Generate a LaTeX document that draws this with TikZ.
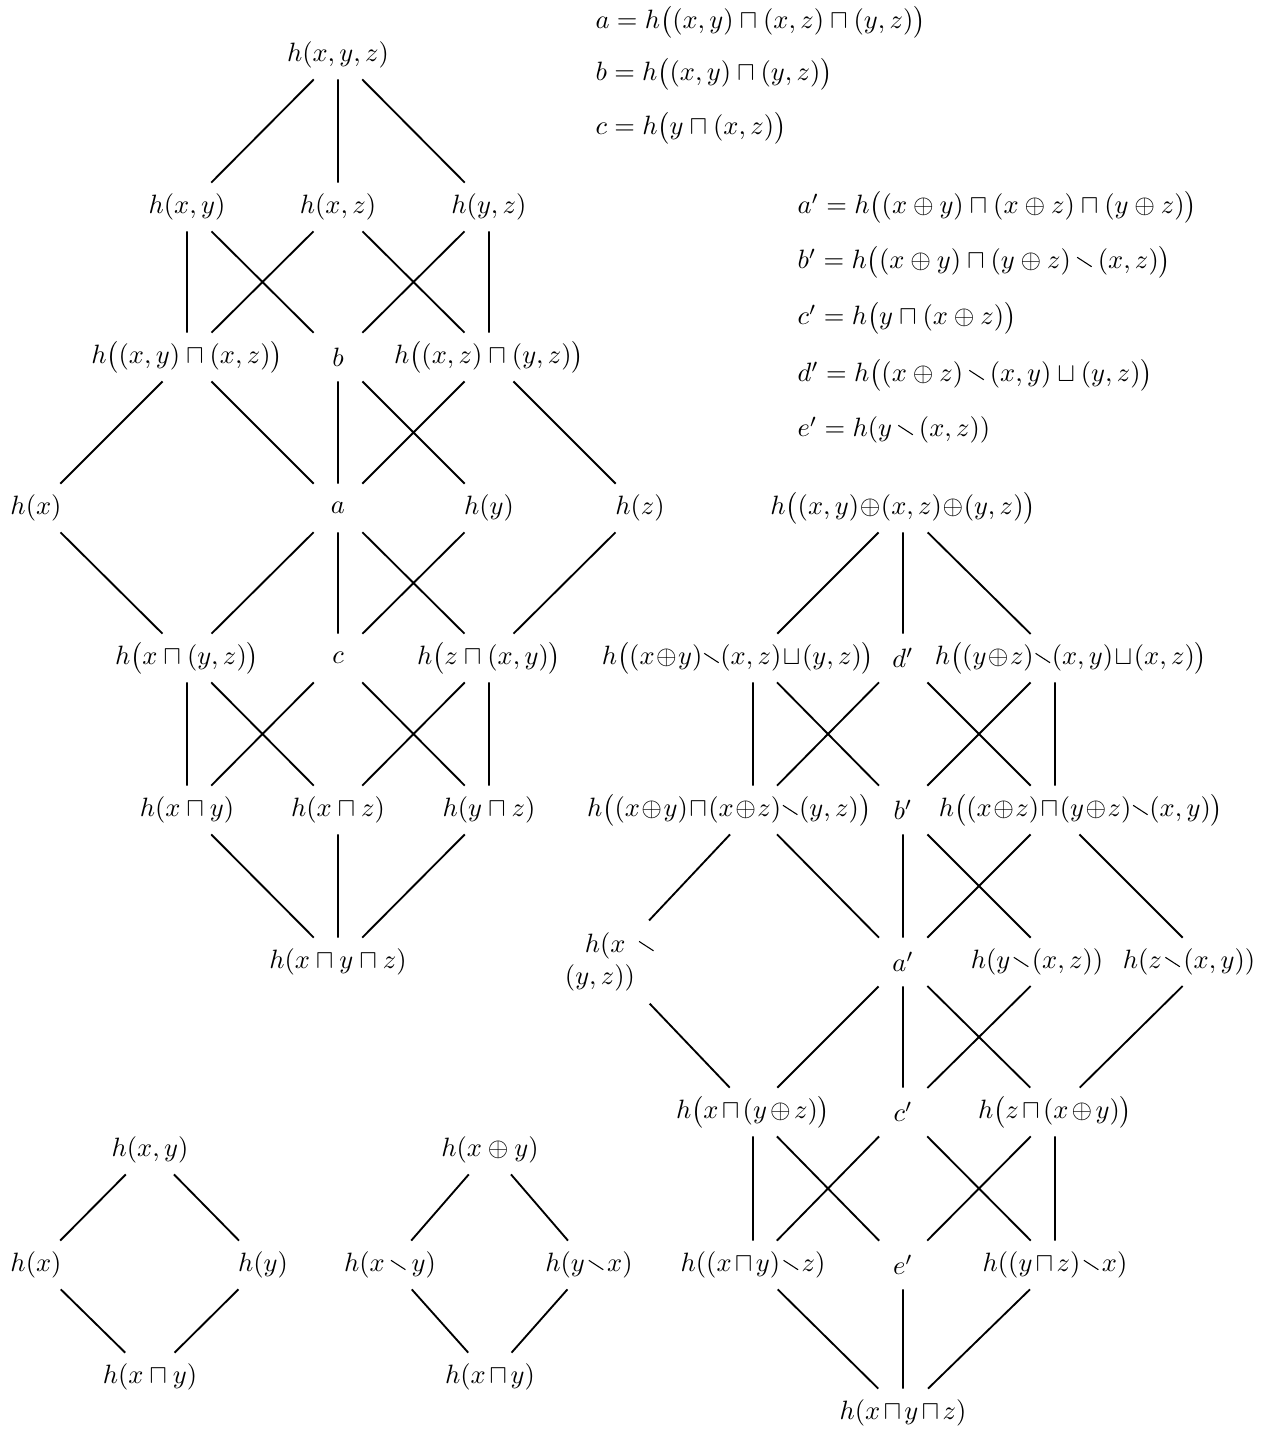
\documentclass[tikz,border=0pt]{standalone}
\usepackage{amsmath,amssymb}
\usepackage{graphicx}
\newcommand{\dminus}{\mathbin{\raisebox{2.3pt}{\rotatebox[origin=c]{-33}{\rule{6.5pt}{0.4pt}}}}}
\newcommand{\nudge}[2]{\makebox[0pt]{\hspace*{#1}#2\hspace*{-#1}}}
\tikzset{
  elem/.style={inner sep=0pt, minimum width=18pt, minimum height=18pt},
  tight/.style={execute at begin node={\medmuskip=#1}},
  tight/.default=2.2mu,
  defn/.style={anchor=west, inner sep=0pt},
  cover/.style={line width=0.7pt},
}

\begin{document}
\begin{tikzpicture}[x=0.3774pt, y=-0.3774pt]
  \useasboundingbox (0,0) rectangle (1271,1431);

  % definitions
  \node[defn] (defa) at (595,22) {$a = h\big((x,y)\sqcap(x,z)\sqcap(y,z)\big)$};
  \node[defn] (defb) at (595,74) {$b = h\big((x,y)\sqcap(y,z)\big)$};
  \node[defn] (defc) at (595,128) {$c = h\big(y\sqcap(x,z)\big)$};
  \node[defn] (defa2) at (797,207) {$a' = h\big((x\oplus y)\sqcap(x\oplus z)\sqcap(y\oplus z)\big)$};
  \node[defn] (defb2) at (797,262) {$b' = h\big((x\oplus y)\sqcap(y\oplus z)\dminus(x,z)\big)$};
  \node[defn] (defc2) at (797,318) {$c' = h\big(y\sqcap(x\oplus z)\big)$};
  \node[defn] (defd2) at (797,375) {$d' = h\big((x\oplus z)\dminus(x,y)\sqcup(y,z)\big)$};
  \node[defn] (defe2) at (797,430) {$e' = h(y\dminus(x,z))$};

  % three variables
  \node[elem] (hxyz) at (338,55) {$h(x,y,z)$};
  \node[elem] (hxy) at (187,207) {$h(x,y)$};
  \node[elem] (hxz) at (338,207) {$h(x,z)$};
  \node[elem] (hyz) at (489,207) {$h(y,z)$};
  \node[elem] (xyMxz) at (187,357) {$h\big((x,y)\sqcap(x,z)\big)$};
  \node[elem] (b) at (338,357) {$b$};
  \node[elem] (xzMyz) at (489,357) {$h\big((x,z)\sqcap(y,z)\big)$};
  \node[elem] (hx) at (36,508) {$h(x)$};
  \node[elem] (a) at (338,508) {$a$};
  \node[elem] (hy) at (489,508) {$h(y)$};
  \node[elem] (hz) at (640,508) {$h(z)$};
  \node[elem] (xMyz) at (187,658) {$h\big(x\sqcap(y,z)\big)$};
  \node[elem] (c) at (338,658) {$c$};
  \node[elem] (zMxy) at (489,658) {$h\big(z\sqcap(x,y)\big)$};
  \node[elem] (xMy) at (187,810) {$h(x\sqcap y)$};
  \node[elem] (xMz) at (338,810) {$h(x\sqcap z)$};
  \node[elem] (yMz) at (489,810) {$h(y\sqcap z)$};
  \node[elem] (xMyMz) at (338,962) {$h(x\sqcap y\sqcap z)$};

  \draw[cover] (hxyz) -- (hxy) (hxyz) -- (hxz) (hxyz) -- (hyz);
  \draw[cover] (hxy) -- (xyMxz) (hxy) -- (b) (hxz) -- (xyMxz) (hxz) -- (xzMyz) (hyz) -- (b) (hyz) -- (xzMyz);
  \draw[cover] (xyMxz) -- (hx) (xyMxz) -- (a) (b) -- (a) (b) -- (hy) (xzMyz) -- (a) (xzMyz) -- (hz);
  \draw[cover] (hx) -- (xMyz) (a) -- (xMyz) (a) -- (c) (a) -- (zMxy) (hy) -- (c) (hz) -- (zMxy);
  \draw[cover] (xMyz) -- (xMy) (xMyz) -- (xMz) (c) -- (xMy) (c) -- (yMz) (zMxy) -- (xMz) (zMxy) -- (yMz);
  \draw[cover] (xMy) -- (xMyMz) (xMz) -- (xMyMz) (yMz) -- (xMyMz);

  % exclusive parts
  \node[elem, tight=0.4mu] (top) at (903,508) {$h\big((x,y)\oplus(x,z)\oplus(y,z)\big)$};
  \node[elem, tight=1mu] (p1) at (753,658) {\nudge{-5.7pt}{$h\big((x\oplus y)\dminus(x,z)\sqcup(y,z)\big)$}};
  \node[elem] (d) at (903,658) {$d'$};
  \node[elem, tight=1mu] (p2) at (1055,658) {\nudge{6pt}{$h\big((y\oplus z)\dminus(x,y)\sqcup(x,z)\big)$}};
  \node[elem, tight=1mu] (q1) at (753,810) {\nudge{-9pt}{$h\big((x\oplus y)\sqcap(x\oplus z)\dminus(y,z)\big)$}};
  \node[elem] (bb) at (903,810) {$b'$};
  \node[elem, tight=1mu] (q2) at (1055,810) {\nudge{9.8pt}{$h\big((x\oplus z)\sqcap(y\oplus z)\dminus(x,y)\big)$}};
  \node[elem, text width=34pt, align=left, minimum height=31pt] (xd) at (610,962) {\hspace*{7.5pt}$h(x\mkern9mu{\dminus}$\\$(y,z))$};
  \node[elem] (aa) at (903,962) {$a'$};
  \node[elem, tight] (yd) at (1055,962) {\nudge{-6.8pt}{$h(y\dminus(x,z))$}};
  \node[elem, tight] (zd) at (1207,962) {\nudge{-6.8pt}{$h(z\dminus(x,y))$}};
  \node[elem, tight] (s1) at (753,1112) {$h\big(x\sqcap(y\oplus z)\big)$};
  \node[elem] (cc) at (903,1112) {$c'$};
  \node[elem, tight] (s2) at (1055,1112) {$h\big(z\sqcap(x\oplus y)\big)$};
  \node[elem, tight] (u1) at (753,1265) {$h((x\sqcap y)\dminus z)$};
  \node[elem] (e) at (903,1265) {$e'$};
  \node[elem, tight] (u2) at (1055,1265) {$h((y\sqcap z)\dminus x)$};
  \node[elem, tight] (bot) at (903,1413) {$h(x\sqcap y\sqcap z)$};

  \draw[cover] (top) -- (p1) (top) -- (d) (top) -- (p2);
  \draw[cover] (p1) -- (q1) (p1) -- (bb) (d) -- (q1) (d) -- (q2) (p2) -- (bb) (p2) -- (q2);
  \draw[cover] (q1) -- (xd) (q1) -- (aa) (bb) -- (aa) (bb) -- (yd) (q2) -- (aa) (q2) -- (zd);
  \draw[cover] (xd) -- (s1) (aa) -- (s1) (aa) -- (cc) (aa) -- (s2) (yd) -- (cc) (zd) -- (s2);
  \draw[cover] (s1) -- (u1) (s1) -- (e) (cc) -- (u1) (cc) -- (u2) (s2) -- (e) (s2) -- (u2);
  \draw[cover] (u1) -- (bot) (e) -- (bot) (u2) -- (bot);

  % two variables
  \node[elem] (sxy) at (150,1150) {$h(x,y)$};
  \node[elem] (sx) at (36,1265) {$h(x)$};
  \node[elem] (sy) at (263,1265) {$h(y)$};
  \node[elem] (sxMy) at (150,1377) {$h(x\sqcap y)$};
  \draw[cover] (sxy) -- (sx) (sxy) -- (sy) (sx) -- (sxMy) (sy) -- (sxMy);

  \node[elem] (oxy) at (490,1150) {$h(x\oplus y)$};
  \node[elem] (oxd) at (390,1265) {$h(x\dminus y)$};
  \node[elem, tight=2.5mu] (oyd) at (589,1265) {$h(y\dminus x)$};
  \node[elem, tight=2.5mu] (oxMy) at (490,1377) {$h(x\sqcap y)$};
  \draw[cover] (oxy) -- (oxd) (oxy) -- (oyd) (oxd) -- (oxMy) (oyd) -- (oxMy);
\end{tikzpicture}
\end{document}
